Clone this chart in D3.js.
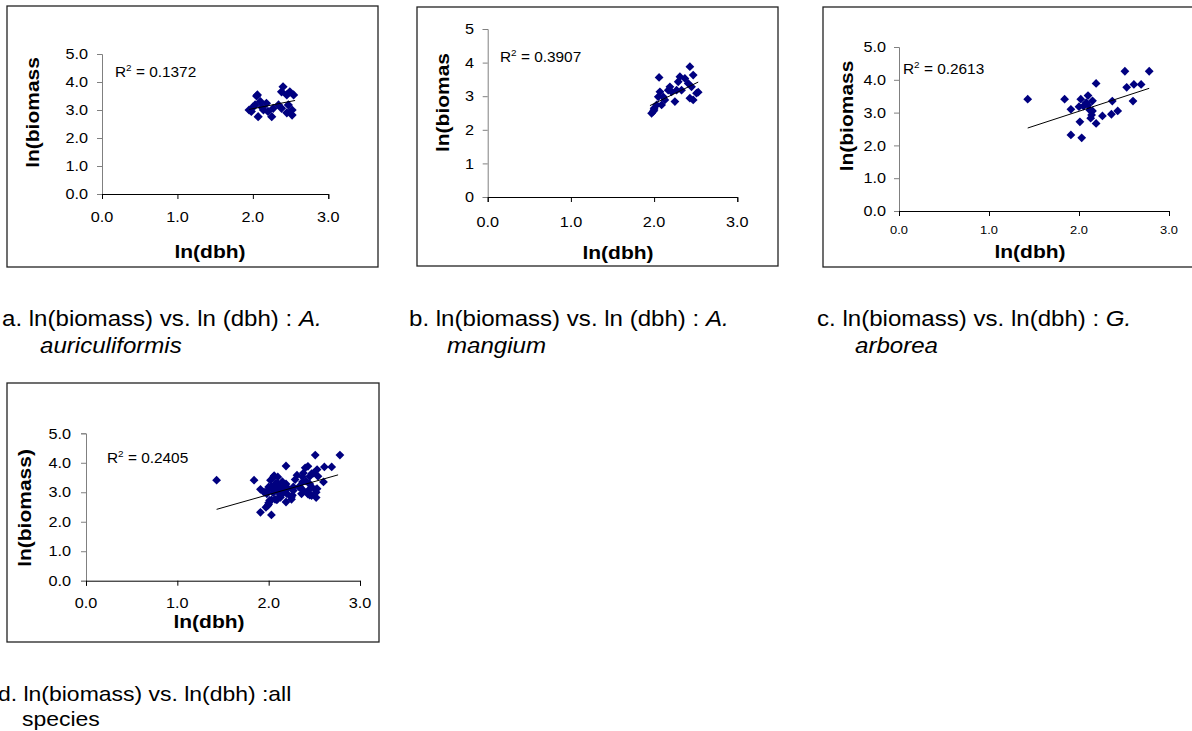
<!DOCTYPE html>
<html>
<head>
<meta charset="utf-8">
<script src="https://cdn.jsdelivr.net/npm/d3@7"></script>
<style>
  body { margin: 0; background: #fff; }
  svg { display: block; font-family: "Liberation Sans", Arial, sans-serif; }
</style>
</head>
<body>
<svg id="chart" width="1192" height="731"></svg>
<script>
// a. A. auriculiformis
const aX = [1.95,2.05,2.03,2.10,2.07,2.14,2.18,2.25,2.27,2.34,2.38,2.40,2.45,2.49,2.54,2.52,2.52,2.38,2.00,1.98,2.12,2.20,2.47,2.06,2.45]
const aY = [3.00,3.50,3.18,3.30,2.76,3.00,3.24,2.76,3.06,3.18,3.65,3.83,3.54,3.65,3.54,3.00,2.82,3.06,3.10,2.95,3.10,2.95,3.18,3.54,2.90]
// b. A. mangium
const bX = [1.97,2.00,2.06,2.03,2.05,2.09,2.13,2.17,2.19,2.25,2.29,2.33,2.37,2.43,2.47,2.45,2.43,2.51,2.53,2.47,2.41,2.31,2.07,2.00,2.11,2.21,2.27,1.99]
const bY = [2.49,2.59,3.56,2.74,2.98,2.74,2.89,3.18,3.28,2.84,3.43,3.18,3.53,3.88,3.63,3.28,2.94,3.09,3.12,2.89,3.38,3.58,3.13,2.64,2.98,3.13,3.18,2.55]
// c. G. arborea
const cX = [1.43,1.84,1.91,1.91,2.03,2.01,2.02,2.10,2.15,2.00,2.10,2.12,2.14,2.13,2.19,2.19,2.26,2.36,2.37,2.43,2.51,2.53,2.61,2.69,2.60,2.78,2.05,2.08,2.15]
const cY = [3.41,3.41,3.10,2.32,2.23,2.72,3.41,3.52,3.36,3.18,3.23,3.08,2.93,2.83,2.67,3.89,2.90,2.95,3.35,3.05,4.26,3.77,3.86,3.86,3.35,4.26,3.20,3.30,3.05]
// d. all species
const dX = aX.concat(bX, cX)
const dY = aY.concat(bY, cY)

// trend line end points
const aFitX = [1.95,2.56], aFitY = [3.02,3.34]
const bFitX = [1.95,2.53], bFitY = [2.72,3.42]
const cFitX = [1.43,2.78], cFitY = [2.53,3.74]
const dFitX = [1.43,2.76], dFitY = [2.42,3.59]

const r2Labels = ["0.1372","0.3907","0.2613","0.2405"]
const xTicks = [0,1,2,3]
const yTicks = [0,1,2,3,4,5]
const yTitles = ["ln(biomass","ln(biomas","ln(biomass","ln(biomass)"]

const svg = d3.select("#chart")
const STRETCH = 1.2

// text with a horizontal stretch along its baseline
function stext(parent, x, y, str, o) {
    o = o || {}
    const t = parent.append("text")
        .attr("transform", "translate(" + x + "," + y + ")" + (o.rotate ? " rotate(" + o.rotate + ")" : "") + " scale(" + (o.stretch || STRETCH) + ",1)")
        .attr("font-size", o.size || 13)
        .attr("font-weight", o.bold ? "bold" : null)
        .attr("text-anchor", o.anchor || "start")
        .attr("fill", "#000")
    if (str !== null) t.text(str)
    return t
}

function diamond(x, y, r) {
    return "M" + x + "," + (y - r) + "L" + (x + r) + "," + y + "L" + x + "," + (y + r) + "L" + (x - r) + "," + y + "Z"
}

function panel(p) {
    const g = svg.append("g")
    g.append("rect")
        .attr("x", p.frame[0]).attr("y", p.frame[1])
        .attr("width", p.frame[2] - p.frame[0]).attr("height", p.frame[3] - p.frame[1])
        .attr("fill", "none").attr("stroke", "#222").attr("stroke-width", 1.3)

    const x = d3.scaleLinear().domain([0, 3]).range([p.px0, p.px1])
    const y = d3.scaleLinear().domain([0, 5]).range([p.py0, p.py1])

    // y axis (gray)
    const yAxis = d3.axisLeft(y).tickValues(yTicks).tickSize(5).tickFormat(d3.format(p.yFmt))
    const ya = g.append("g").attr("transform", "translate(" + p.px0 + ",0)").call(yAxis)
    ya.select(".domain").attr("stroke", "#808080")
    ya.selectAll(".tick line").attr("stroke", "#808080")
    ya.selectAll(".tick text").remove()
    yTicks.forEach(v => {
        stext(g, p.yLabEnd, y(v) + p.yTickSize * 0.36, d3.format(p.yFmt)(v), { size: p.yTickSize, anchor: "end", stretch: 1.12 })
    })

    // x axis (black)
    const xAxis = d3.axisBottom(x).tickValues(xTicks).tickSize(5).tickFormat(d3.format(".1f"))
    const xa = g.append("g").attr("transform", "translate(0," + p.py0 + ")").call(xAxis)
    xa.select(".domain").attr("stroke", "#000")
    xa.selectAll(".tick line").attr("stroke", "#000")
    xa.selectAll(".tick text").remove()
    xTicks.forEach(v => {
        stext(g, x(v), p.xLabY, d3.format(".1f")(v), { size: p.xTickSize, anchor: "middle", stretch: 1.12 })
    })

    // titles
    stext(g, p.xTitle[0], p.xTitle[1], "ln(dbh)", { size: p.titleSize, bold: true, anchor: "middle" })
    stext(g, p.yTitle[0], p.yTitle[1], p.yText, { size: p.titleSize, bold: true, anchor: "middle", rotate: -90 })

    // points
    g.append("g").selectAll("path")
        .data(d3.range(p.xs.length))
        .join("path")
        .attr("d", i => diamond(x(p.xs[i]), y(p.ys[i]), p.r))
        .attr("fill", "#000080")

    // trend line
    g.append("line")
        .attr("x1", x(p.fitX[0])).attr("y1", y(p.fitY[0]))
        .attr("x2", x(p.fitX[1])).attr("y2", y(p.fitY[1]))
        .attr("stroke", "#000").attr("stroke-width", 1)

    // R squared
    const rt = stext(g, p.r2[0], p.r2[1], null, { size: 14, stretch: 1.1 })
    rt.append("tspan").text("R")
    rt.append("tspan").attr("font-size", 9).attr("dy", -6).text("2")
    rt.append("tspan").attr("dy", 6).text(" = " + p.r2Text)
}

const panels = [
    { frame: [7, 6, 378, 267], px0: 102, px1: 328.3, py0: 194, py1: 54, yFmt: ".1f",
      yLabEnd: 88, yTickSize: 14.5, xLabY: 222, xTickSize: 14.5, titleSize: 17.5,
      xTitle: [210, 258], yTitle: [39, 112.5], yText: yTitles[0],
      xs: aX, ys: aY, fitX: aFitX, fitY: aFitY, r: 4.6, r2: [115, 77], r2Text: r2Labels[0] },
    { frame: [417, 7, 778, 266], px0: 487.7, px1: 737.3, py0: 197, py1: 29, yFmt: "d",
      yLabEnd: 474, yTickSize: 14.5, xLabY: 227, xTickSize: 14.5, titleSize: 17.5,
      xTitle: [618, 259], yTitle: [449, 102.5], yText: yTitles[1],
      xs: bX, ys: bY, fitX: bFitX, fitY: bFitY, r: 4.4, r2: [500, 62], r2Text: r2Labels[1] },
    { frame: [823, 7, 1200, 267], px0: 899, px1: 1169, py0: 211, py1: 47, yFmt: ".1f",
      yLabEnd: 886, yTickSize: 14.5, xLabY: 234, xTickSize: 11.5, titleSize: 17.5,
      xTitle: [1030, 258], yTitle: [853, 116], yText: yTitles[2],
      xs: cX, ys: cY, fitX: cFitX, fitY: cFitY, r: 4.4, r2: [903, 74], r2Text: r2Labels[2] },
    { frame: [7, 383, 379, 642], px0: 86, px1: 360, py0: 580.7, py1: 433.3, yFmt: ".1f",
      yLabEnd: 71, yTickSize: 14.5, xLabY: 608, xTickSize: 14.5, titleSize: 17.5,
      xTitle: [209, 628], yTitle: [31, 508], yText: yTitles[3],
      xs: dX, ys: dY, fitX: dFitX, fitY: dFitY, r: 4.4, r2: [107, 463], r2Text: r2Labels[3] }
]
panels.forEach(panel)

// captions
function caption(x, y, parts, x2, y2, line2, size) {
    const t = stext(svg, x, y, null, { size: size, stretch: 1.12 })
    parts.forEach(pt => t.append("tspan").attr("font-style", pt[1] ? "italic" : null).text(pt[0]))
    stext(svg, x2, y2, line2[0], { size: size, stretch: 1.12 }).attr("font-style", line2[1] ? "italic" : null)
}
caption(2, 326, [["a. ln(biomass) vs. ln (dbh) : ", false], ["A.", true]], 40, 353, ["auriculiformis", true], 21.5)
caption(409, 326, [["b. ln(biomass) vs. ln (dbh) : ", false], ["A.", true]], 447, 353, ["mangium", true], 21.5)
caption(817, 326, [["c. ln(biomass) vs. ln(dbh) : ", false], ["G.", true]], 855, 353, ["arborea", true], 21.5)
caption(-2, 701, [["d. ln(biomass) vs. ln(dbh) :all", false]], 22, 726, ["species", false], 20.5)
</script>
</body>
</html>
